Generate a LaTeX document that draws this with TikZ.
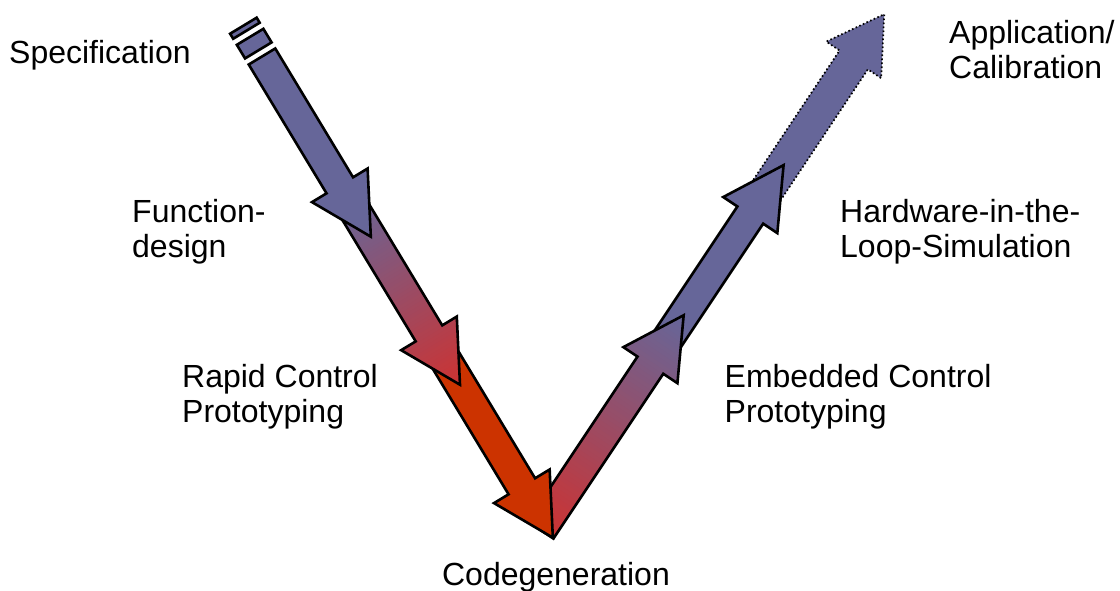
\documentclass[tikz,border=0pt]{standalone}
\usepackage{fontspec}
\setmainfont{Liberation Sans}
\definecolor{vblue}{HTML}{666699}
\definecolor{vred}{HTML}{CC3300}
\definecolor{vpink}{HTML}{CC3333}

% block arrow along the local x axis: length, head length, head half-width, shaft half-width
\newcommand{\varrowpath}[4]{(0,-#4) -- ({#1-#2},-#4) -- ({#1-#2},-#3) -- (#1,0) -- ({#1-#2},#3) -- ({#1-#2},#4) -- (0,#4) -- cycle}

% block arrow filled with a colour ramp from tail colour to tip colour
\newcommand{\rampedarrow}[6]{%
  \begin{scope}
    \clip \varrowpath{#1}{#2}{#3}{#4};
    \pgfmathsetmacro{\gstep}{#1/64}
    \foreach \i in {0,...,63}{
      \pgfmathsetmacro{\gmix}{100*\i/63}
      \pgfmathsetmacro{\ga}{\gstep*\i}
      \pgfmathsetmacro{\gb}{\gstep*(\i+1)+0.8}
      \fill[#6!\gmix!#5] (\ga,-40) rectangle (\gb,40);
    }
  \end{scope}
  \draw[outline] \varrowpath{#1}{#2}{#3}{#4};
}

\tikzset{
  outline/.style={draw=black, line width=2.6pt, line join=miter, miter limit=10},
  dotline/.style={draw=black, line width=1.7pt, dash pattern=on 1.6pt off 2.4pt, line join=miter},
  lbl/.style={inner sep=0pt, font=\fontsize{32}{35}\selectfont, text=black},
}

\begin{document}
\begin{tikzpicture}[x=1pt, y=-1pt]
\useasboundingbox (0,0) rectangle (1120,591);

% ---------- right branch (drawn first, lowest layer) ----------
% application / calibration: dotted outline
\coordinate (t6) at (758.6,202.6);
\begin{scope}[shift={(t6)}, rotate=56.31]
  \fill[vblue] \varrowpath{226.5}{55}{33}{17};
  \draw[dotline] \varrowpath{226.5}{55}{33}{17};
\end{scope}

% hardware-in-the-loop
\coordinate (t5) at (658.6,352.6);
\begin{scope}[shift={(t5)}, rotate=56.31]
  \fill[vblue] \varrowpath{225.3}{60}{32.5}{15.5};
  \draw[outline] \varrowpath{225.3}{60}{32.5}{15.5};
\end{scope}

% embedded control prototyping: red to blue
\coordinate (t4) at (540.5,530);
\begin{scope}[shift={(t4)}, rotate=56.31]
  \rampedarrow{258.1}{60}{32.5}{15.5}{vpink}{vblue}
\end{scope}

% ---------- left branch ----------
% rapid control prototyping to codegeneration
\coordinate (t3) at (437.1,346);
\begin{scope}[shift={(t3)}, rotate=-58.87]
  \fill[vred] \varrowpath{223.9}{60}{32.5}{15.5};
  \draw[outline] \varrowpath{223.9}{60}{32.5}{15.5};
\end{scope}

% function design: blue to red
\coordinate (t2) at (347.4,198.3);
\begin{scope}[shift={(t2)}, rotate=-58.87]
  \rampedarrow{217.8}{60}{32.5}{15.5}{vblue}{vpink}
\end{scope}

% specification: striped tail
\coordinate (t1) at (262,56.5);
\begin{scope}[shift={(t1)}, rotate=-58.87]
  \fill[vblue] \varrowpath{210.5}{60}{32.5}{15.5};
  \draw[outline] \varrowpath{210.5}{60}{32.5}{15.5};
  \draw[outline, fill=vblue] (-36,-15.5) rectangle (-30.1,15.5);
  \draw[outline, fill=vblue] (-23,-15.5) rectangle (-7.1,15.5);
\end{scope}

% ---------- labels ----------
\node[lbl, anchor=base west] (spec) at (9,63.5) {Specification};
\node[lbl, anchor=base west] (fdes) at (132,222.5)
  {\begin{tabular}[t]{@{}l@{}}Function-\\design\end{tabular}};
\node[lbl, anchor=base west] (rcp) at (182,387.5)
  {\begin{tabular}[t]{@{}l@{}}Rapid Control\\Prototyping\end{tabular}};
\node[lbl, anchor=base] (cgen) at (556,585) {Codegeneration};
\node[lbl, anchor=base west] (ecp) at (724.5,387.5)
  {\begin{tabular}[t]{@{}l@{}}Embedded Control\\Prototyping\end{tabular}};
\node[lbl, anchor=base west] (hil) at (840,222.5)
  {\begin{tabular}[t]{@{}l@{}}Hardware-in-the-\\Loop-Simulation\end{tabular}};
\node[lbl, anchor=base west] (appl) at (949,43.5)
  {\begin{tabular}[t]{@{}l@{}}Application/\\Calibration\end{tabular}};
\end{tikzpicture}
\end{document}
